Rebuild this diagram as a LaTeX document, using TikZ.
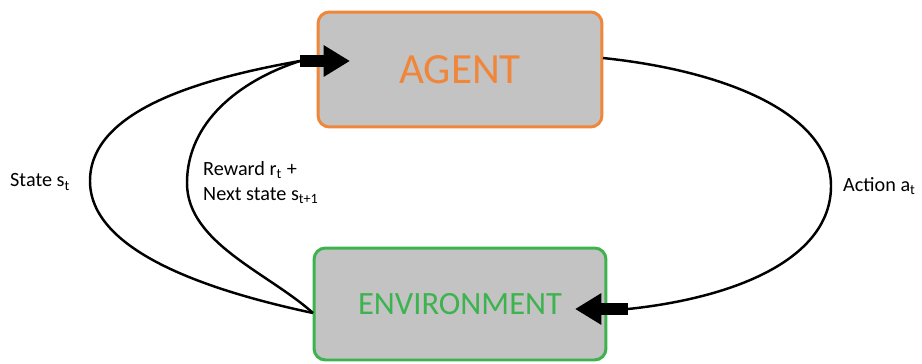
\documentclass[tikz,border=0pt]{standalone}
\usepackage{fontspec}
\setmainfont{Carlito}
\usepackage{tikz}
\usetikzlibrary{positioning, arrows, arrows.meta}

\definecolor{agentorange}{HTML}{F0863A}
\definecolor{envgreen}{HTML}{3DB34F}
\definecolor{boxgray}{HTML}{C3C3C3}

\begin{document}
\begin{tikzpicture}[x=0.02cm,y=0.02cm,
  box/.style={draw, line width=1.7pt, rounded corners=6.5pt, fill=boxgray},
  loopline/.style={line width=1.4pt},
  fatarrow/.style={line width=7pt, -{Triangle[length=15pt,width=17pt]}},
  lbl/.style={anchor=west, font=\fontsize{11.5}{14.5}\selectfont, align=left}]
\useasboundingbox (0,0) rectangle (922,363);
% the two blocks
\node[box, draw=agentorange, text=agentorange, minimum width=5.68cm, minimum height=2.3cm,
      font=\fontsize{24.5}{28}\selectfont] (agent) at (460,293.5) {AGENT};
\node[box, draw=envgreen, text=envgreen, minimum width=5.84cm, minimum height=2.24cm,
      font=\fontsize{18.5}{22}\selectfont] (env) at (460,59) {\raisebox{-0.12cm}{ENVIRONMENT}};
% where the loops meet the block arrows
\coordinate (aTail) at (300,302);
\coordinate (aTip) at (350,302);
\coordinate (eTail) at (628,54);
\coordinate (eTip) at (575,54);
\coordinate (eLeft) at (313,50);
\coordinate (aRight) at (603,305);
% loops
\draw[loopline] (eLeft) to[out=168,in=-90,out distance=2.3cm,in distance=1.36cm] (90,182)
  to[out=90,in=190,out distance=1.36cm,in distance=2.2cm] (aTail);
\draw[loopline] (eLeft) to[out=138,in=-90,out distance=1.2cm,in distance=1.2cm] (187,180)
  to[out=90,in=198,out distance=1.2cm,in distance=1.3cm] (aTail);
\draw[loopline] (aRight) to[out=-6,in=90,out distance=2.5cm,in distance=1.44cm] (831,177)
  to[out=-90,in=6,out distance=1.44cm,in distance=2.2cm] (eTail);
% block arrows
\draw[fatarrow] (aTail) -- (aTip);
\draw[fatarrow] (eTail) -- (eTip);
% labels
\node[lbl] (state) at (4,181) {State s\textsubscript{t}};
\node[lbl] (reward) at (197,180.5) {Reward r\textsubscript{t} +\\Next state s\textsubscript{t+1}};
\node[lbl] (action) at (837,177) {Action a\textsubscript{t}};
\end{tikzpicture}
\end{document}
